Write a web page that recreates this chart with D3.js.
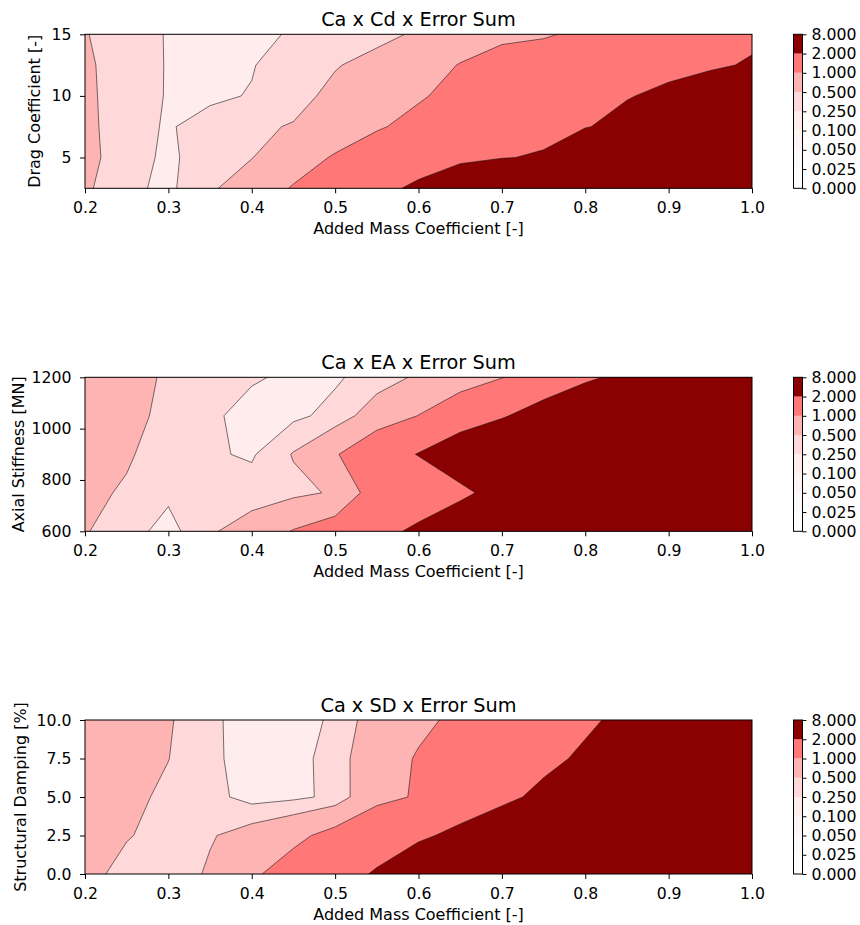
<!DOCTYPE html>
<html>
<head>
<meta charset="utf-8">
<script src="https://cdn.jsdelivr.net/npm/d3@7"></script>
<style>
  body { margin: 0; background: #fff; }
  svg { font-family: "DejaVu Sans", sans-serif; }
</style>
</head>
<body>
<div id="chart"></div>
<script>
// grid of added mass coefficients (columns of every error table)
const caValues = [0.2, 0.25, 0.3, 0.35, 0.4, 0.45, 0.5, 0.55, 0.6, 0.65, 0.7, 0.75, 0.8, 0.85, 0.9, 0.95, 1.0];
const cdValues = [2.5, 5, 7.5, 10, 12.5, 15];
const eaValues = [600, 750, 900, 1050, 1200];
const sdValues = [0, 2.5, 5, 7.5, 10];

// error sums, one row per y value (lowest first), one column per Ca value
const errorCd = [
  [0.55, 0.3, 0.2, 0.45, 0.7, 1.04, 1.3, 1.7, 2.2, 3.0, 3.8, 4.5, 5.2, 5.8, 6.3, 6.8, 7.2],
  [0.58, 0.37, 0.194, 0.4, 0.49, 0.75, 1.05, 1.3, 1.5, 1.75, 1.95, 2.1, 3.2, 4.0, 4.8, 5.5, 6.0],
  [0.57, 0.36, 0.22, 0.38, 0.45, 0.52, 0.7, 0.95, 1.15, 1.35, 1.5, 1.7, 1.95, 2.3, 3.0, 3.8, 4.5],
  [0.56, 0.36, 0.235, 0.19, 0.27, 0.4, 0.58, 0.75, 0.95, 1.15, 1.3, 1.45, 1.65, 1.95, 2.2, 2.7, 3.3],
  [0.56, 0.33, 0.24, 0.17, 0.23, 0.43, 0.48, 0.6, 0.8, 1.02, 1.2, 1.3, 1.4, 1.55, 1.75, 1.85, 2.1],
  [0.52, 0.32, 0.24, 0.15, 0.2, 0.27, 0.33, 0.42, 0.54, 0.75, 0.9, 0.95, 1.1, 1.3, 1.45, 1.6, 1.8]
];
const errorEa = [
  [0.52, 0.35, 0.16, 0.46, 0.66, 1.03, 1.3, 1.6, 2.25, 3.0, 4.0, 5.0, 5.5, 6.0, 6.4, 6.8, 7.2],
  [0.56, 0.47, 0.3, 0.33, 0.36, 0.42, 0.538, 1.3, 1.2, 1.73, 2.48, 3.5, 4.5, 5.2, 5.8, 6.3, 6.8],
  [0.6, 0.53, 0.38, 0.28, 0.22, 0.52, 0.95, 1.5, 2.04, 2.8, 3.3, 4.0, 4.6, 5.1, 5.5, 6.0, 6.4],
  [0.62, 0.56, 0.45, 0.3, 0.15, 0.2, 0.32, 0.7, 1.01, 1.4, 1.9, 2.5, 3.2, 3.8, 4.3, 4.8, 5.2],
  [0.64, 0.58, 0.47, 0.38, 0.28, 0.2, 0.22, 0.35, 0.55, 0.75, 0.98, 1.3, 1.8, 2.3, 3.0, 3.6, 4.2]
];
const errorSd = [
  [0.6, 0.4, 0.3, 0.55, 0.9, 1.3, 1.6, 2.1, 3.0, 4.0, 5.0, 5.8, 6.3, 6.7, 7.0, 7.3, 7.5],
  [0.62, 0.52, 0.4, 0.47, 0.65, 0.85, 1.2, 1.5, 1.8, 2.3, 3.0, 3.8, 4.6, 5.2, 5.7, 6.1, 6.5],
  [0.64, 0.58, 0.44, 0.33, 0.16, 0.2, 0.3, 0.855, 1.05, 1.3, 1.7, 2.3, 3.0, 3.7, 4.3, 4.8, 5.2],
  [0.66, 0.6, 0.505, 0.3, 0.15, 0.16, 0.35, 0.77, 1.04, 1.25, 1.45, 1.7, 2.2, 2.9, 3.5, 4.0, 4.4],
  [0.68, 0.62, 0.53, 0.3, 0.14, 0.15, 0.29, 0.68, 0.9, 1.1, 1.3, 1.5, 1.8, 2.3, 2.9, 3.4, 3.8]
];

const levels = [0, 0.025, 0.05, 0.1, 0.25, 0.5, 1, 2, 8];
const bandColors = ['#ffffff', '#fffafa', '#fff4f4', '#ffecec', '#ffd9d9', '#ffb4b4', '#ff7777', '#8b0000'];

const caTicks = [0.2, 0.3, 0.4, 0.5, 0.6, 0.7, 0.8, 0.9, 1.0];
const cdTicks = [5, 10, 15];
const eaTicks = [600, 800, 1000, 1200];
const sdTicks = [0, 2.5, 5, 7.5, 10];

const panels = [
  {title: 'Ca x Cd x Error Sum', ylabel: 'Drag Coefficient [-]', yValues: cdValues, grid: errorCd,
   yTicks: cdTicks, yFormat: d3.format('d'), top: 34.3, ylabelX: 39.5},
  {title: 'Ca x EA x Error Sum', ylabel: 'Axial Stiffness [MN]', yValues: eaValues, grid: errorEa,
   yTicks: eaTicks, yFormat: d3.format('d'), top: 377.3, ylabelX: 23.5},
  {title: 'Ca x SD x Error Sum', ylabel: 'Structural Damping [%]', yValues: sdValues, grid: errorSd,
   yTicks: sdTicks, yFormat: d3.format('.1f'), top: 720, ylabelX: 25.5}
];

const left = 85, plotW = 667, plotH = 154;
const cbLeft = 793.5, cbW = 9;

const svg = d3.select('#chart')
  .append('svg')
  .attr('width', 860)
  .attr('height', 925);

panels.forEach((p, k) => {
  const top = p.top;
  const x = d3.scaleLinear().domain([caValues[0], caValues[caValues.length - 1]]).range([left, left + plotW]);
  const y = d3.scaleLinear().domain([p.yValues[0], p.yValues[p.yValues.length - 1]]).range([top + plotH, top]);

  // d3.contours puts sample i at grid coordinate i + 0.5
  const nx = caValues.length, ny = p.yValues.length;
  const gx = d3.scaleLinear().domain([0.5, nx - 0.5]).range(x.domain());
  const gy = d3.scaleLinear().domain([0.5, ny - 0.5]).range(y.domain());
  const path = d3.geoPath(d3.geoTransform({
    point(px, py) { this.stream.point(x(gx(px)), y(gy(py))); }
  }));

  const contours = d3.contours()
    .size([nx, ny])
    .thresholds(levels)(p.grid.flat());

  svg.append('clipPath')
    .attr('id', `clip${k}`)
    .append('rect')
    .attr('x', left).attr('y', top)
    .attr('width', plotW).attr('height', plotH);

  const g = svg.append('g').attr('clip-path', `url(#clip${k})`);

  g.selectAll('path.band')
    .data(contours.filter(c => c.value < 8))
    .enter()
    .append('path')
    .attr('class', 'band')
    .attr('d', path)
    .attr('fill', (d, i) => bandColors[i])
    .attr('stroke', 'none');

  g.selectAll('path.line')
    .data(contours.filter(c => c.value > 0 && c.value < 8))
    .enter()
    .append('path')
    .attr('class', 'line')
    .attr('d', path)
    .attr('fill', 'none')
    .attr('stroke', '#1a1a1a')
    .attr('stroke-width', 0.6)
    .attr('stroke-linejoin', 'round');

  // frame
  svg.append('rect')
    .attr('x', left).attr('y', top)
    .attr('width', plotW).attr('height', plotH)
    .attr('fill', 'none')
    .attr('stroke', '#000')
    .attr('stroke-width', 1);

  const xAxis = svg.append('g')
    .attr('transform', `translate(0,${top + plotH})`)
    .call(d3.axisBottom(x).tickValues(caTicks).tickFormat(d3.format('.1f')).tickSize(5).tickPadding(8.5));
  const yAxis = svg.append('g')
    .attr('transform', `translate(${left},0)`)
    .call(d3.axisLeft(y).tickValues(p.yTicks).tickFormat(p.yFormat).tickSize(5).tickPadding(8.5));

  [xAxis, yAxis].forEach(a => {
    a.select('.domain').remove();
    a.attr('font-family', null).attr('font-size', null);
    a.selectAll('line').attr('stroke', '#000');
    a.selectAll('text').attr('fill', '#000').attr('font-size', 15.7);
  });

  svg.append('text')
    .attr('x', left + plotW / 2)
    .attr('y', top - 8.5)
    .attr('text-anchor', 'middle')
    .attr('font-size', 19.3)
    .text(p.title);

  svg.append('text')
    .attr('x', left + plotW / 2)
    .attr('y', top + plotH + 46)
    .attr('text-anchor', 'middle')
    .attr('font-size', 16)
    .text('Added Mass Coefficient [-]');

  svg.append('text')
    .attr('transform', `translate(${p.ylabelX},${top + plotH / 2}) rotate(-90)`)
    .attr('text-anchor', 'middle')
    .attr('font-size', 16)
    .text(p.ylabel);

  // colour bar with evenly spaced level ticks
  const cb = d3.scalePoint().domain(levels).range([top + plotH, top]);
  svg.append('g')
    .selectAll('rect')
    .data(d3.pairs(levels))
    .enter()
    .append('rect')
    .attr('x', cbLeft)
    .attr('y', d => cb(d[1]))
    .attr('width', cbW)
    .attr('height', d => cb(d[0]) - cb(d[1]))
    .attr('fill', (d, i) => bandColors[i]);
  svg.append('rect')
    .attr('x', cbLeft).attr('y', top)
    .attr('width', cbW).attr('height', plotH)
    .attr('fill', 'none')
    .attr('stroke', '#000')
    .attr('stroke-width', 1);
  const cAxis = svg.append('g')
    .attr('transform', `translate(${cbLeft + cbW},0)`)
    .call(d3.axisRight(cb).tickFormat(d3.format('.3f')).tickSize(4).tickPadding(5));
  cAxis.select('.domain').remove();
  cAxis.attr('font-family', null).attr('font-size', null);
  cAxis.selectAll('line').attr('stroke', '#000');
  cAxis.selectAll('text').attr('fill', '#000').attr('font-size', 15.7);
});
</script>
</body>
</html>
